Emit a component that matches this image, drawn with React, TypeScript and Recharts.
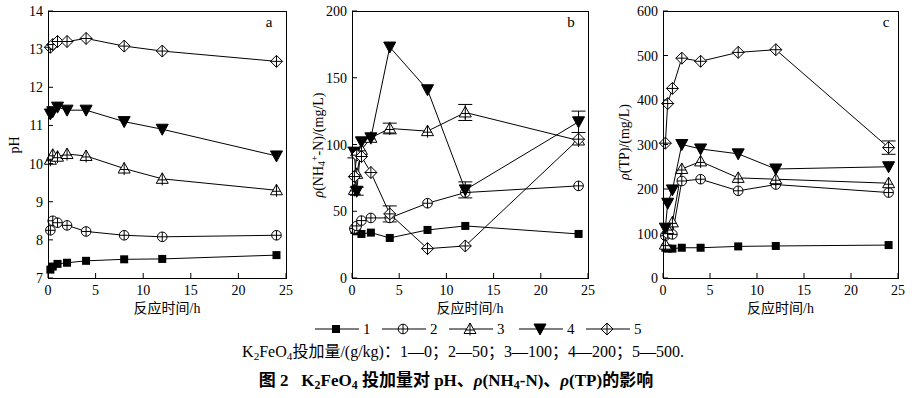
import React from 'react';
import { LineChart, Line, XAxis, YAxis, ErrorBar } from 'recharts';

// ---------- data ----------
const TIME = [0.25, 0.5, 1, 2, 4, 8, 12, 24];
const X_TICKS = [0, 5, 10, 15, 20, 25];
const SERIES_NAMES = ['1', '2', '3', '4', '5'];

const PH_TICKS = [7, 8, 9, 10, 11, 12, 13, 14];
const PH_1 = [7.22, 7.3, 7.37, 7.4, 7.45, 7.49, 7.5, 7.6];
const PH_2 = [8.25, 8.5, 8.45, 8.38, 8.22, 8.12, 8.08, 8.12];
const PH_3 = [10.1, 10.23, 10.18, 10.25, 10.2, 9.87, 9.6, 9.3];
const PH_4 = [11.3, 11.36, 11.48, 11.4, 11.4, 11.1, 10.9, 10.2];
const PH_5 = [13.05, 13.12, 13.2, 13.2, 13.28, 13.08, 12.95, 12.68];

const NH_TICKS = [0, 50, 100, 150, 200];
const NH_1 = [36, 35, 33, 34, 30, 36, 39, 33];
const NH_2 = [37, 39, 43, 45, 45, 56, 64, 69];
const NH_3 = [66, 78, 96, 105, 112, 110, 124, 103];
const NH_4 = [94, 65, 102, 105, 173, 141, 66, 117];
const NH_5 = [76, 92, 91, 79, 48, 22, 24, 104];
const NH_ERR_3 = [0, 0, 0, 0, 4, 0, 6, 0];
const NH_ERR_4 = [4, 3, 0, 0, 0, 0, 6, 8];
const NH_ERR_5 = [0, 0, 0, 0, 6, 0, 0, 0];

const TP_TICKS = [0, 100, 200, 300, 400, 500, 600];
const TP_1 = [68, 66, 66, 68, 68, 71, 72, 74];
const TP_2 = [95, 100, 98, 218, 222, 196, 210, 192];
const TP_3 = [75, 110, 125, 245, 262, 225, 222, 213];
const TP_4 = [112, 168, 198, 300, 290, 279, 245, 250];
const TP_5 = [303, 392, 426, 494, 487, 507, 513, 293];
const TP_ERR_5 = [0, 0, 0, 0, 0, 0, 0, 15];

const ZERO = TIME.map(() => 0);

function buildRows(s: number[][], e: number[][]) {
  return TIME.map((t, i) => ({
    t,
    s1: s[0][i], s2: s[1][i], s3: s[2][i], s4: s[3][i], s5: s[4][i],
    e1: e[0][i], e2: e[1][i], e3: e[2][i], e4: e[3][i], e5: e[4][i],
  }));
}

const PH_ROWS = buildRows([PH_1, PH_2, PH_3, PH_4, PH_5], [ZERO, ZERO, ZERO, ZERO, ZERO]);
const NH_ROWS = buildRows([NH_1, NH_2, NH_3, NH_4, NH_5], [ZERO, ZERO, NH_ERR_3, NH_ERR_4, NH_ERR_5]);
const TP_ROWS = buildRows([TP_1, TP_2, TP_3, TP_4, TP_5], [ZERO, ZERO, ZERO, ZERO, TP_ERR_5]);

// ---------- styling ----------
const SERIF = '"Liberation Serif", "Times New Roman", "Noto Sans CJK SC", serif';
const CJK = '"Liberation Serif", "Noto Sans CJK SC", serif';
const KINDS = ['square', 'circlePlus', 'triUp', 'triDown', 'diamondPlus'];

function Marker({ kind, cx, cy }: { kind: string; cx: number; cy: number }) {
  const s = '#000';
  if (kind === 'square') {
    return <rect x={cx - 4} y={cy - 4} width={8} height={8} fill={s} />;
  }
  if (kind === 'circlePlus') {
    return (
      <g>
        <circle cx={cx} cy={cy} r={4.8} fill="#fff" stroke={s} strokeWidth={1} />
        <line x1={cx - 4.8} x2={cx + 4.8} y1={cy} y2={cy} stroke={s} strokeWidth={1} />
        <line x1={cx} x2={cx} y1={cy - 4.8} y2={cy + 4.8} stroke={s} strokeWidth={1} />
      </g>
    );
  }
  if (kind === 'triUp') {
    return (
      <g>
        <polygon points={`${cx},${cy - 6} ${cx - 6},${cy + 4.5} ${cx + 6},${cy + 4.5}`} fill="#fff" stroke={s} strokeWidth={1} />
        <line x1={cx} x2={cx} y1={cy - 6} y2={cy + 6.5} stroke={s} strokeWidth={1} />
        <line x1={cx - 4.5} x2={cx + 4.5} y1={cy + 1} y2={cy + 1} stroke={s} strokeWidth={1} />
      </g>
    );
  }
  if (kind === 'triDown') {
    return <polygon points={`${cx - 6},${cy - 5} ${cx + 6},${cy - 5} ${cx},${cy + 6}`} fill={s} stroke={s} strokeWidth={1} />;
  }
  return (
    <g>
      <polygon points={`${cx},${cy - 6} ${cx + 6},${cy} ${cx},${cy + 6} ${cx - 6},${cy}`} fill="#fff" stroke={s} strokeWidth={1} />
      <line x1={cx - 6} x2={cx + 6} y1={cy} y2={cy} stroke={s} strokeWidth={1} />
      <line x1={cx} x2={cx} y1={cy - 6} y2={cy + 6} stroke={s} strokeWidth={1} />
    </g>
  );
}

const CH_W = 300;
const CH_H = 308;
const X_AX_H = 30;
const PLOT_TOP = 11;
const PLOT_BOTTOM = CH_H - X_AX_H;

type PanelProps = {
  left: number;
  rows: any[];
  domain: [number, number];
  ticks: number[];
  plotLeft: number;
  plotRight: number;
  letter: string;
  letterX: number;
  errKeys: boolean[];
};

function Panel({ left, rows, domain, ticks, plotLeft, plotRight, letter, letterX, errKeys }: PanelProps) {
  const YTick = (p: any) => {
    const { y, payload } = p;
    return (
      <g>
        <line x1={plotLeft} x2={plotLeft + 5} y1={y} y2={y} stroke="#000" strokeWidth={1} />
        <text x={plotLeft - 5} y={y} dy={5} textAnchor="end" fontFamily={SERIF} fontSize={14} fill="#000">
          {payload.value}
        </text>
      </g>
    );
  };
  const XTick = (p: any) => {
    const { x, payload } = p;
    return (
      <g>
        <line x1={x} x2={x} y1={PLOT_BOTTOM} y2={PLOT_BOTTOM - 5} stroke="#000" strokeWidth={1} />
        <text x={x} y={PLOT_BOTTOM + 12} dy={5} textAnchor="middle" fontFamily={SERIF} fontSize={14} fill="#000">
          {payload.value}
        </text>
      </g>
    );
  };
  return (
    <div style={{ position: 'absolute', left, top: 0, width: CH_W, height: CH_H }}>
      <LineChart
        width={CH_W}
        height={CH_H}
        data={rows}
        margin={{ top: PLOT_TOP, right: CH_W - plotRight, left: 0, bottom: 0 }}
      >
        <XAxis
          type="number"
          dataKey="t"
          domain={[0, 25]}
          ticks={X_TICKS}
          interval={0}
          axisLine={false}
          tickLine={false}
          height={X_AX_H}
          tick={XTick}
        />
        <YAxis
          type="number"
          domain={domain}
          ticks={ticks}
          interval={0}
          allowDataOverflow
          axisLine={false}
          tickLine={false}
          width={plotLeft}
          tick={YTick}
        />
        {SERIES_NAMES.map((n, i) => (
          <Line
            key={n}
            type="linear"
            dataKey={'s' + (i + 1)}
            stroke="#000"
            strokeWidth={1}
            isAnimationActive={false}
            activeDot={false}
            dot={(p: any) => <Marker key={'m' + i + '-' + p.index} kind={KINDS[i]} cx={p.cx} cy={p.cy} />}
          >
            {errKeys[i] ? (
              <ErrorBar dataKey={'e' + (i + 1)} width={7} stroke="#000" strokeWidth={1} direction="y" />
            ) : null}
          </Line>
        ))}
      </LineChart>
      <div
        style={{
          position: 'absolute',
          left: plotLeft,
          top: PLOT_TOP,
          width: plotRight - plotLeft + 1,
          height: PLOT_BOTTOM - PLOT_TOP + 1,
          border: '1px solid #000',
          boxSizing: 'border-box',
          pointerEvents: 'none',
        }}
      />
      <div
        style={{
          position: 'absolute',
          left: letterX - 10,
          top: 13,
          width: 20,
          textAlign: 'center',
          fontFamily: SERIF,
          fontSize: 15,
          lineHeight: '18px',
        }}
      >
        {letter}
      </div>
      <div
        style={{
          position: 'absolute',
          left: (plotLeft + plotRight) / 2 - 60,
          top: 299,
          width: 120,
          textAlign: 'center',
          fontFamily: CJK,
          fontSize: 14,
          lineHeight: '20px',
        }}
      >
        反应时间/h
      </div>
    </div>
  );
}

function RotLabel({ cx, cy, children }: { cx: number; cy: number; children: React.ReactNode }) {
  return (
    <div
      style={{
        position: 'absolute',
        left: cx - 110,
        top: cy - 10,
        width: 220,
        height: 20,
        lineHeight: '20px',
        textAlign: 'center',
        fontFamily: SERIF,
        fontSize: 14,
        transform: 'rotate(-90deg)',
        whiteSpace: 'nowrap',
      }}
    >
      {children}
    </div>
  );
}

const LEGEND_START = 315;
const LEGEND_STEP = 67;

function Legend() {
  const y = 329;
  return (
    <svg style={{ position: 'absolute', left: 0, top: 0 }} width={912} height={398}>
      {SERIES_NAMES.map((n, i) => {
        const x0 = LEGEND_START + i * LEGEND_STEP + (i >= 3 ? 3 : 0);
        return (
          <g key={n}>
            <line x1={x0} x2={x0 + 44} y1={y} y2={y} stroke="#000" strokeWidth={1} />
            <Marker kind={KINDS[i]} cx={x0 + 21} cy={y} />
            <text x={x0 + 48} y={y + 5} fontFamily={SERIF} fontSize={15} fill="#000">
              {n}
            </text>
          </g>
        );
      })}
    </svg>
  );
}

export default function App() {
  const sub = { fontSize: '0.7em', verticalAlign: '-0.25em' } as React.CSSProperties;
  const sup = { fontSize: '0.7em', verticalAlign: '0.5em' } as React.CSSProperties;
  return (
    <div
      style={{
        position: 'absolute',
        left: 0,
        top: 0,
        width: 912,
        height: 398,
        background: '#fff',
        overflow: 'hidden',
        color: '#000',
      }}
    >
      <Panel left={0} rows={PH_ROWS} domain={[7, 14]} ticks={PH_TICKS} plotLeft={48} plotRight={286} letter="a" letterX={269} errKeys={[false, false, false, false, false]} />
      <Panel left={300} rows={NH_ROWS} domain={[0, 200]} ticks={NH_TICKS} plotLeft={52} plotRight={288} letter="b" letterX={271} errKeys={[false, false, true, true, true]} />
      <Panel left={610} rows={TP_ROWS} domain={[0, 600]} ticks={TP_TICKS} plotLeft={53} plotRight={288} letter="c" letterX={276} errKeys={[false, false, false, false, true]} />

      <RotLabel cx={15} cy={145}>pH</RotLabel>
      <RotLabel cx={315} cy={145}>
        <i>ρ</i>(NH<span style={sub}>4</span><span style={sup}>+</span>-N)/(mg/L)
      </RotLabel>
      <RotLabel cx={625} cy={142}>
        <i>ρ</i>(TP)/(mg/L)
      </RotLabel>

      <Legend />

      <div
        style={{
          position: 'absolute',
          left: 0,
          top: 342,
          width: 926,
          textAlign: 'center',
          fontFamily: CJK,
          fontSize: 16,
          lineHeight: '20px',
          whiteSpace: 'nowrap',
        }}
      >
        K<span style={sub}>2</span>FeO<span style={sub}>4</span>投加量/(g/kg)：1—0；2—50；3—100；4—200；5—500.
      </div>
      <div
        style={{
          position: 'absolute',
          left: 0,
          top: 370,
          width: 912,
          textAlign: 'center',
          fontFamily: CJK,
          fontSize: 17,
          fontWeight: 'bold',
          lineHeight: '22px',
          whiteSpace: 'nowrap',
        }}
      >
        图 2&nbsp;&nbsp;&nbsp;K<span style={sub}>2</span>FeO<span style={sub}>4</span> 投加量对 pH、<i>ρ</i>(NH<span style={sub}>4</span>-N)、<i>ρ</i>(TP)的影响
      </div>
    </div>
  );
}
